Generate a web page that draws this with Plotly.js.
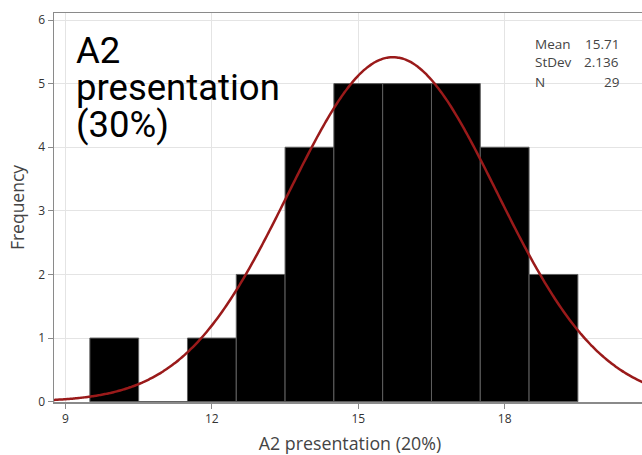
<!DOCTYPE html>
<html>
<head>
<meta charset="utf-8">
<script src="https://cdn.plot.ly/plotly-3.0.1.min.js"></script>
<style>
html,body{margin:0;padding:0;overflow:hidden;background:#fff;}
#chart{width:654px;height:455px;}
</style>
</head>
<body>
<div id="chart"></div>
<script>
// Data
const binCenters = [10, 11, 12, 13, 14, 15, 16, 17, 18, 19];
const frequencies = [1, 0, 1, 2, 4, 5, 5, 5, 4, 2];
const xTicks = [9, 12, 15, 18];
const yTicks = [0, 1, 2, 3, 4, 5, 6];
const titleLines = ["A2", "presentation", "(30%)"];
const statLabels = ["Mean", "StDev", "N"];
const statValues = ["15.71", "2.136", "29"];
const fitMean = 15.71;
const fitSd = 2.136;
const fitN = 29;
const binWidth = 1;

// fitted normal curve (from the stats shown)
const curveX = [];
const curveY = [];
for (let i = 0; i <= 300; i++) {
  const x = 8.7 + i * (22 - 8.7) / 300;
  curveX.push(x);
  const z = (x - fitMean) / fitSd;
  curveY.push(fitN * binWidth * Math.exp(-0.5 * z * z) / (fitSd * Math.sqrt(2 * Math.PI)));
}

const font = "'Open Sans', 'Noto Sans', sans-serif";
const W = 654, H = 455;
const M = {l: 54, r: 8, t: 13, b: 53};
const plotW = W - M.l - M.r;
const plotH = H - M.t - M.b;
const px2paperX = p => (p - M.l) / plotW;
const px2paperY = p => (H - M.b - p) / plotH;

const traces = [
  {
    type: "bar",
    x: binCenters,
    y: frequencies,
    width: binWidth,
    marker: {color: "#000000", line: {color: "#5f5f5f", width: 1}},
    showlegend: false
  },
  {
    type: "scatter",
    mode: "lines",
    x: curveX,
    y: curveY,
    line: {color: "#9a1a1a", width: 2.5, shape: "spline"},
    showlegend: false
  }
];

const layout = {
  width: W,
  height: H,
  margin: M,
  paper_bgcolor: "#ffffff",
  plot_bgcolor: "#ffffff",
  bargap: 0,
  xaxis: {
    range: [8.765, 8.765 + plotW / 48.8],
    tickvals: xTicks,
    ticktext: xTicks.map(String),
    showgrid: true, gridcolor: "#e4e4e4", gridwidth: 1,
    zeroline: false,
    showline: true, linecolor: "#8a8a8a", linewidth: 1.5, mirror: true,
    ticks: "outside", ticklen: 5, tickcolor: "#8a8a8a",
    tickfont: {family: font, size: 12, color: "#333"},
    title: {text: "A2 presentation (20%)", font: {family: font, size: 17.8, color: "#444"}, standoff: 15}
  },
  yaxis: {
    range: [-0.005, 6.11],
    tickvals: yTicks,
    showgrid: true, gridcolor: "#e4e4e4", gridwidth: 1,
    zeroline: false,
    showline: true, linecolor: "#8a8a8a", linewidth: 1.5, mirror: true,
    ticks: "outside", ticklen: 5, tickcolor: "#8a8a8a",
    tickfont: {family: font, size: 12, color: "#333"},
    title: {text: "Frequency", font: {family: font, size: 17.5, color: "#444"}, standoff: 9}
  },
  annotations: []
};

// big title: one text, small base size sets the tight line pitch, span sets glyph size
layout.annotations.push({
  xref: "paper", yref: "paper",
  x: px2paperX(74), y: px2paperY(27),
  xanchor: "left", yanchor: "top", align: "left",
  text: titleLines.map(t => '<span style="font-size:36.5px">' + t + '</span>').join("<br>"),
  showarrow: false,
  font: {family: "Roboto, 'Noto Sans', sans-serif", size: 28.5, color: "#000"}
});

// stats table (labels left, values right)
for (let i = 0; i < statLabels.length; i++) {
  const yPaper = px2paperY(43.5 + i * 19);
  layout.annotations.push({
    xref: "paper", yref: "paper",
    x: px2paperX(533), y: yPaper,
    xanchor: "left", yanchor: "middle",
    text: statLabels[i], showarrow: false,
    font: {family: font, size: 13.5, color: "#444"}
  });
  layout.annotations.push({
    xref: "paper", yref: "paper",
    x: px2paperX(621), y: yPaper,
    xanchor: "right", yanchor: "middle",
    text: statValues[i], showarrow: false,
    font: {family: font, size: 13.5, color: "#444"}
  });
}

Plotly.newPlot("chart", traces, layout, {displayModeBar: false, staticPlot: true});
</script>
</body>
</html>
